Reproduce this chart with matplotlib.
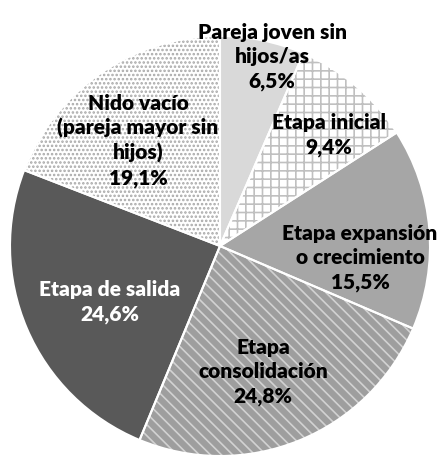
import matplotlib
matplotlib.use('Agg')
import matplotlib.pyplot as plt

labels = ['Pareja joven sin\nhijos/as', 'Etapa inicial', 'Etapa expansión\no crecimiento',
          'Etapa\nconsolidación', 'Etapa de salida', 'Nido vacío\n(pareja mayor sin\nhijos)']
values = [6.5, 9.4, 15.5, 24.8, 24.6, 19.1]
pct_text = ['6,5%', '9,4%', '15,5%', '24,8%', '24,6%', '19,1%']

# look of each slice
faces = ['#d9d9d9', 'white', '#a6a6a6', '#9e9e9e', '#595959', 'white']
hatch_col = ['#d9d9d9', '#c0c0c0', '#a6a6a6', '#d2d2d2', '#595959', '#a8a8a8']
hatches = [None, '++', None, '\\\\\\', None, '....']
txt_col = ['black', 'black', 'black', 'black', 'white', 'black']
# label centres in pixels (x, y from top)
lab_pos = [(272, 57), (329, 135), (360, 258), (263, 372), (110, 302), (138, 141)]

W, H = 437, 459
plt.rcParams['font.family'] = ['Lato', 'DejaVu Sans']
plt.rcParams['hatch.linewidth'] = 1.2

fig = plt.figure(figsize=(W / 100, H / 100), dpi=100)
ax = fig.add_axes([0, 0, 1, 1])

cx, cy, r = 220, H - 246, 210
wedges, _ = ax.pie(values, startangle=90, counterclock=False,
                   center=(cx, cy), radius=r, frame=True)
for w, fc, hc, h in zip(wedges, faces, hatch_col, hatches):
    w.set_facecolor(fc)
    w.set_edgecolor(hc)
    w.set_linewidth(0)
    if h:
        w.set_hatch(h)

# white separators on top
sep, _ = ax.pie(values, startangle=90, counterclock=False,
                center=(cx, cy), radius=r, frame=True,
                wedgeprops=dict(facecolor='none', edgecolor='white', linewidth=1.5))
ax.set_xlim(0, W)
ax.set_ylim(0, H)
ax.set_aspect('equal')
ax.axis('off')

for lab, p, (x, y), c in zip(labels, pct_text, lab_pos, txt_col):
    ax.text(x, H - y, lab + '\n' + p, ha='center', va='center', color=c,
            fontsize=15, fontweight='heavy', linespacing=1.3)

fig.savefig('out.png', dpi=100)
